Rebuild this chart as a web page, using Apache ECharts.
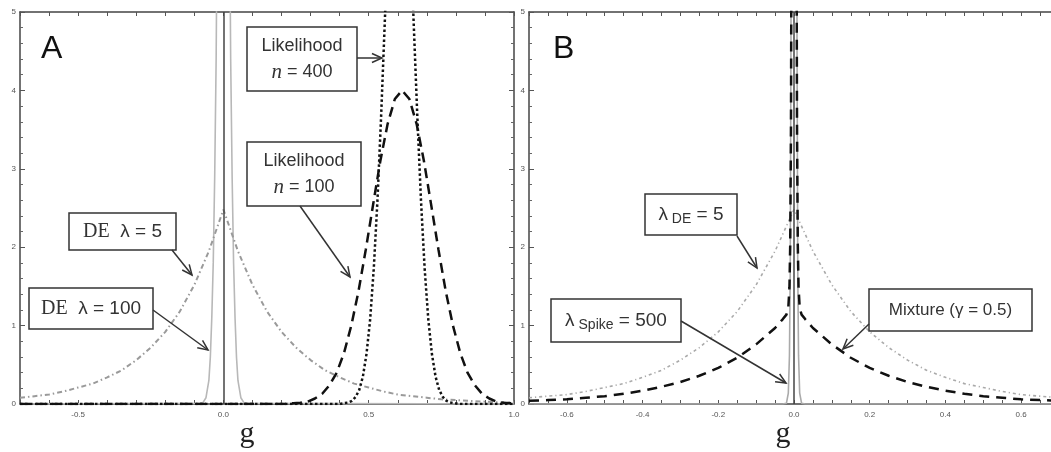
<!DOCTYPE html>
<html><head><meta charset="utf-8">
<script src="https://cdn.jsdelivr.net/npm/echarts@6/dist/echarts.min.js"></script>
<style>html,body{margin:0;padding:0;background:#fff}#c{width:1051px;height:452px}</style>
</head><body><div id="c"></div>
<script>
// ---------- Panel A data ----------
const aDE5_g = [-0.7,-0.65,-0.6,-0.55,-0.5,-0.45,-0.4,-0.35,-0.3,-0.25,-0.2,-0.15,-0.1,-0.05,0,0.05,0.1,0.15,0.2,0.25,0.3,0.35,0.4,0.45,0.5,0.55,0.6,0.65,0.7,0.75,0.8,0.85,0.9,0.95,1.0];
const aDE5_y = [0.08,0.10,0.12,0.16,0.21,0.26,0.34,0.43,0.56,0.72,0.92,1.18,1.52,1.95,2.48,1.95,1.52,1.18,0.92,0.72,0.56,0.43,0.34,0.26,0.21,0.16,0.12,0.10,0.08,0.06,0.05,0.04,0.03,0.02,0.02];
const aDE100_g = [-0.7,-0.08,-0.07,-0.06,-0.05,-0.045,-0.04,-0.035,-0.03,-0.025,-0.02,-0.01,0,0.01,0.02,0.025,0.03,0.035,0.04,0.045,0.05,0.06,0.07,0.08,1.0];
const aDE100_y = [0,0.01,0.02,0.08,0.3,0.6,1.1,1.8,2.9,4.4,7,18,50,18,7,4.4,2.9,1.8,1.1,0.6,0.3,0.08,0.02,0.01,0];
const aL400_g = [-0.7,0.4,0.415,0.43,0.4425,0.455,0.4675,0.48,0.4925,0.505,0.5175,0.53,0.5425,0.555,0.5675,0.58,0.5925,0.605,0.6175,0.63,0.6425,0.655,0.6675,0.68,0.6925,0.705,0.7175,0.73,0.7425,0.755,0.7675,0.78,0.795,0.81,1.0];
const aL400_y = [0,0,0.01,0.02,0.04,0.09,0.18,0.35,0.64,1.08,1.73,2.59,3.65,4.84,6.02,7.04,7.73,7.98,7.73,7.04,6.02,4.84,3.65,2.59,1.73,1.08,0.64,0.35,0.18,0.09,0.04,0.02,0.01,0,0];
const aL100_g = [-0.7,0.215,0.24,0.265,0.29,0.315,0.34,0.365,0.39,0.415,0.44,0.465,0.49,0.515,0.54,0.565,0.59,0.615,0.64,0.665,0.69,0.715,0.74,0.765,0.79,0.815,0.84,0.865,0.89,0.915,0.94,0.965,0.99,1.0];
const aL100_y = [0,0,0.01,0.015,0.03,0.07,0.13,0.24,0.40,0.65,1.00,1.44,1.97,2.54,3.10,3.57,3.89,4.0,3.89,3.57,3.10,2.54,1.97,1.44,1.00,0.65,0.40,0.24,0.13,0.07,0.03,0.015,0.01,0];

// ---------- Panel B data ----------
const bDE5_g = [-0.7,-0.65,-0.6,-0.55,-0.5,-0.45,-0.4,-0.35,-0.3,-0.25,-0.2,-0.15,-0.1,-0.05,0,0.05,0.1,0.15,0.2,0.25,0.3,0.35,0.4,0.45,0.5,0.55,0.6,0.65,0.7];
const bDE5_y = [0.08,0.10,0.12,0.16,0.21,0.26,0.34,0.43,0.56,0.72,0.92,1.18,1.52,1.95,2.48,1.95,1.52,1.18,0.92,0.72,0.56,0.43,0.34,0.26,0.21,0.16,0.12,0.10,0.08];
const bSpike_g = [-0.7,-0.03,-0.02,-0.015,-0.012,-0.01,-0.008,-0.006,-0.004,-0.002,0,0.002,0.004,0.006,0.008,0.01,0.012,0.015,0.02,0.03,0.7];
const bSpike_y = [0,0,0.01,0.14,0.62,1.68,4.58,12.4,33.8,92,250,92,33.8,12.4,4.58,1.68,0.62,0.14,0.01,0,0];
const bMix_g = [-0.7,-0.65,-0.6,-0.55,-0.5,-0.45,-0.4,-0.35,-0.3,-0.25,-0.2,-0.15,-0.1,-0.05,-0.03,-0.02,-0.015,-0.012,-0.01,-0.008,-0.006,-0.004,-0.002,0,0.002,0.004,0.006,0.008,0.01,0.012,0.015,0.02,0.03,0.05,0.1,0.15,0.2,0.25,0.3,0.35,0.4,0.45,0.5,0.55,0.6,0.65,0.7];
const bMix_y = [0.04,0.05,0.06,0.08,0.10,0.13,0.17,0.22,0.28,0.36,0.46,0.59,0.76,0.97,1.08,1.14,1.23,1.49,2.03,3.49,7.43,18.1,47.2,126,47.2,18.1,7.43,3.49,2.03,1.49,1.23,1.14,1.08,0.97,0.76,0.59,0.46,0.36,0.28,0.22,0.17,0.13,0.10,0.08,0.06,0.05,0.04];

// tick label sets
const aXLabels = [-0.5, 0, 0.5, 1.0];
const bXLabels = [-0.6, -0.4, -0.2, 0, 0.2, 0.4, 0.6];
const yLabels = [0, 1, 2, 3, 4, 5];

const pairs = (g, y) => g.map((v, i) => [v, y[i]]);
const near = (v, list) => list.some(t => Math.abs(t - v) < 1e-6);

const frame = {color:'#444', width:1.5};
const labelStyle = {fontSize:8, color:'#555', fontFamily:'Liberation Sans'};

function xAx(grid, pos, min, max, interval, labels) {
  return {
    type:'value', gridIndex:grid, position:pos, min, max, interval,
    axisLine:{show:true, onZero:false, lineStyle:frame},
    axisTick:{show:true, inside:true, length:4, lineStyle:{color:'#555', width:1}},
    splitLine:{show:false},
    axisLabel: labels ? {show:true, margin:7, ...labelStyle, showMinLabel:true, showMaxLabel:true, hideOverlap:false,
      formatter: v => near(v, labels) ? (Math.abs(v) < 1e-9 ? '0.0' : v.toFixed(1)) : ''} : {show:false}
  };
}
function yAx(grid, pos, showLabels) {
  return {
    type:'value', gridIndex:grid, position:pos, min:0, max:5, interval:1,
    axisLine:{show:true, onZero:false, lineStyle:frame},
    axisTick:{show:true, inside:true, length:5, lineStyle:{color:'#555', width:1}},
    minorTick:{show:true, splitNumber:5, length:3, lineStyle:{color:'#666', width:1}},
    splitLine:{show:false},
    axisLabel: showLabels ? {show:true, margin:4, ...labelStyle,
      formatter: v => near(v, yLabels) ? String(Math.round(v)) : ''} : {show:false}
  };
}

function line(xi, yi, data, color, width, type, z) {
  return {type:'line', xAxisIndex:xi, yAxisIndex:yi, data, showSymbol:false, symbol:'none',
    clip:true, z:z||2, lineStyle:{color, width, type, cap:'butt'}};
}
const zeroLine = {symbol:['none','none'], silent:true, label:{show:false},
  lineStyle:{color:'#444', width:1.5, type:'solid'}, data:[{xAxis:0}], animation:false};

// ---------- annotations ----------
const ink = '#333';
const sans = 'Liberation Sans';
function box(x, y, w, h, text, rich) {
  return {type:'group', children:[
    {type:'rect', shape:{x, y, width:w, height:h}, style:{fill:'#fff', stroke:ink, lineWidth:1.5}, z:100},
    {type:'text', z:101, style:{text, rich, x:x + w/2, y:y + h/2, align:'center', verticalAlign:'middle',
      textAlign:'center', textVerticalAlign:'middle', fill:ink, fontFamily:sans, fontSize:18}}
  ]};
}
function arrow(x1, y1, x2, y2) {
  const a = Math.atan2(y2 - y1, x2 - x1), L = 11, s = 0.42;
  const p1 = [x2 - L*Math.cos(a - s), y2 - L*Math.sin(a - s)];
  const p2 = [x2 - L*Math.cos(a + s), y2 - L*Math.sin(a + s)];
  return [
    {type:'line', z:100, shape:{x1, y1, x2, y2}, style:{stroke:ink, lineWidth:1.5}},
    {type:'polyline', z:100, shape:{points:[p1, [x2, y2], p2]}, style:{stroke:ink, lineWidth:1.5, fill:null}}
  ];
}
const R = {
  a:{fontFamily:sans, fontSize:18, color:ink, lineHeight:26},
  i:{fontFamily:'Liberation Serif', fontStyle:'italic', fontSize:21, color:ink, lineHeight:26},
  d:{fontFamily:'Liberation Serif', fontSize:20, color:ink},
  l:{fontFamily:sans, fontSize:19, color:ink},
  sub:{fontFamily:sans, fontSize:14, color:ink, padding:[10,0,0,0]},
  m:{fontFamily:sans, fontSize:17, color:ink}
};
const graphics = [
  {type:'text', z:100, style:{text:'A', x:41, y:49, align:'left', verticalAlign:'middle', textAlign:'left', textVerticalAlign:'middle', fontFamily:sans, fontSize:32, fill:'#111'}},
  {type:'text', z:100, style:{text:'B', x:553, y:49, align:'left', verticalAlign:'middle', textAlign:'left', textVerticalAlign:'middle', fontFamily:sans, fontSize:32, fill:'#111'}},
  {type:'text', z:100, style:{text:'g', x:247, y:434, align:'center', verticalAlign:'middle', textAlign:'center', textVerticalAlign:'middle', fontFamily:'Liberation Serif', fontSize:30, fill:'#222'}},
  {type:'text', z:100, style:{text:'g', x:783, y:434, align:'center', verticalAlign:'middle', textAlign:'center', textVerticalAlign:'middle', fontFamily:'Liberation Serif', fontSize:30, fill:'#222'}},
  box(247, 27, 110, 64, '{a|Likelihood}\n{i|n}{a| = 400}', R),
  box(247, 142, 114, 64, '{a|Likelihood}\n{i|n}{a| = 100}', R),
  box(69, 213, 107, 37, '{d|DE}{l|  λ = 5}', R),
  box(29, 288, 124, 41, '{d|DE}{l|  λ = 100}', R),
  box(645, 194, 92, 41, '{l|λ}{sub| DE}{l| = 5}', R),
  box(551, 299, 130, 43, '{l|λ}{sub| Spike}{l| = 500}', R),
  box(869, 289, 163, 42, '{m|Mixture (γ = 0.5)}', R),
  ...arrow(357, 58, 382, 58),
  ...arrow(300, 206, 350, 277),
  ...arrow(172, 250, 192, 275),
  ...arrow(153, 310, 208, 350),
  ...arrow(737, 236, 757, 268),
  ...arrow(681, 321, 786, 383),
  ...arrow(869, 324, 843, 349)
];

const chart = echarts.init(document.getElementById('c'), null, {renderer:'canvas'});
chart.setOption({
  animation:false,
  backgroundColor:'#fff',
  grid:[
    {left:20, top:12, width:494, height:392, containLabel:false, outerBoundsMode:'none'},
    {left:529, top:12, width:530, height:392, containLabel:false, outerBoundsMode:'none'}
  ],
  xAxis:[
    xAx(0, 'bottom', -0.7, 1.0, 0.1, aXLabels),
    xAx(0, 'top', -0.7, 1.0, 0.1, null),
    xAx(1, 'bottom', -0.7, 0.7, 0.05, bXLabels),
    xAx(1, 'top', -0.7, 0.7, 0.05, null)
  ],
  yAxis:[
    yAx(0, 'left', true), yAx(0, 'right', false),
    yAx(1, 'left', true), yAx(1, 'right', false)
  ],
  series:[
    Object.assign(line(0, 0, pairs(aDE100_g, aDE100_y), '#b8b8b8', 1.6, 'solid', 2), {markLine:zeroLine}),
    line(0, 0, pairs(aDE5_g, aDE5_y), '#9a9a9a', 2, [5,3,1.5,3], 3),
    line(0, 0, pairs(aL100_g, aL100_y), '#111', 2.5, [10,6], 4),
    line(0, 0, pairs(aL400_g, aL400_y), '#111', 2.5, [2.5,2.5], 5),
    Object.assign(line(2, 2, pairs(bSpike_g, bSpike_y), '#aaaaaa', 1.6, 'solid', 2), {markLine:zeroLine}),
    line(2, 2, pairs(bDE5_g, bDE5_y), '#aaaaaa', 1.6, [3,3,1.2,3], 3),
    line(2, 2, pairs(bMix_g, bMix_y), '#111', 2.5, [10,7], 4)
  ],
  graphic:{elements:graphics}
});
</script>
</body></html>
